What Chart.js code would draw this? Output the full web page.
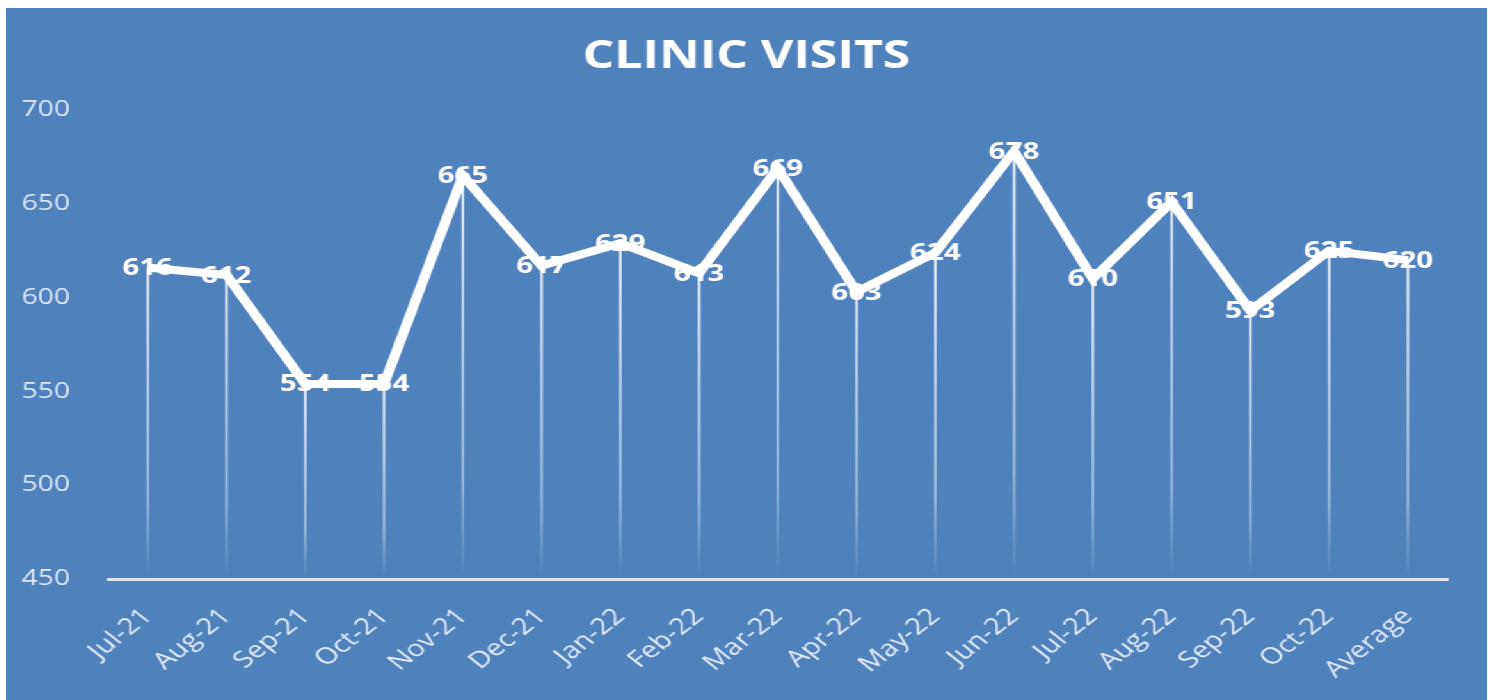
<!DOCTYPE html>
<html>
<head>
<meta charset="utf-8">
<script src="https://cdn.jsdelivr.net/npm/chart.js@4"></script>
<style>
  html, body { margin: 0; padding: 0; background: #ffffff; overflow: hidden; }
  /* the panel is drawn narrow, then widened so the lettering comes out broad */
  #wrap {
    position: absolute; left: 6px; top: 8px;
    width: 1157px; height: 692px;
    background: #4f81bd;
    transform: scaleX(1.28);
    transform-origin: 0 0;
  }
</style>
</head>
<body>
<div id="wrap"><canvas id="visits"></canvas></div>
<script>
const months = ['Jul-21','Aug-21','Sep-21','Oct-21','Nov-21','Dec-21','Jan-22','Feb-22',
                'Mar-22','Apr-22','May-22','Jun-22','Jul-22','Aug-22','Sep-22','Oct-22','Average'];
const visits = [616, 612, 554, 554, 665, 617, 629, 613, 669, 603, 624, 678, 610, 651, 593, 625, 620];
const yTicks = [450, 500, 550, 600, 650, 700];
const chartTitle = 'CLINIC VISITS';

// thin fading lines from each point down to the axis
const dropLines = {
  id: 'dropLines',
  beforeDatasetsDraw(chart) {
    const ctx = chart.ctx;
    const bottom = chart.scales.y.bottom;
    chart.getDatasetMeta(0).data.forEach(pt => {
      const g = ctx.createLinearGradient(0, pt.y, 0, bottom);
      g.addColorStop(0, 'rgba(255,255,255,0.9)');
      g.addColorStop(0.75, 'rgba(220,232,248,0.55)');
      g.addColorStop(1, 'rgba(220,232,248,0)');
      ctx.save();
      ctx.strokeStyle = g;
      ctx.lineWidth = 2;
      ctx.beginPath();
      ctx.moveTo(pt.x, pt.y);
      ctx.lineTo(pt.x, bottom);
      ctx.stroke();
      ctx.restore();
    });
  }
};

// value labels centred on each point
const valueLabels = {
  id: 'valueLabels',
  afterDatasetsDraw(chart) {
    const ctx = chart.ctx;
    ctx.save();
    ctx.font = 'bold 23px "Open Sans"';
    ctx.fillStyle = '#ffffff';
    ctx.textAlign = 'center';
    ctx.textBaseline = 'middle';
    chart.getDatasetMeta(0).data.forEach((pt, i) => {
      ctx.fillText(String(visits[i]), pt.x, pt.y + 1);
    });
    ctx.restore();
  }
};

// title centred on the whole panel, not just the plot
const panelTitle = {
  id: 'panelTitle',
  afterDraw(chart) {
    const ctx = chart.ctx;
    ctx.save();
    ctx.font = 'bold 39px "Open Sans"';
    ctx.fillStyle = '#ffffff';
    ctx.textAlign = 'center';
    ctx.textBaseline = 'middle';
    ctx.fillText(chartTitle, chart.width / 2, 49);
    ctx.restore();
  }
};

new Chart(document.getElementById('visits'), {
  type: 'line',
  data: {
    labels: months,
    datasets: [{
      data: visits,
      borderColor: '#ffffff',
      borderWidth: 8,
      pointRadius: 0,
      tension: 0,
      borderJoinStyle: 'miter'
    }]
  },
  options: {
    responsive: true,
    maintainAspectRatio: false,
    animation: false,
    layout: { padding: { left: 0, right: 31, top: 102, bottom: 0 } },
    plugins: {
      legend: { display: false },
      tooltip: { enabled: false },
      title: { display: false }
    },
    scales: {
      x: {
        offset: true,
        grid: { display: false },
        border: { display: true, color: '#dfe8f4', width: 3 },
        ticks: {
          color: '#e4ebf5',
          font: { family: '"Open Sans"', size: 23 },
          minRotation: 45,
          maxRotation: 45,
          padding: 16
        },
        afterFit(scale) { scale.height = 121; }
      },
      y: {
        min: 450,
        max: 700,
        grid: { display: false },
        border: { display: false },
        afterBuildTicks(scale) { scale.ticks = yTicks.map(v => ({ value: v })); },
        ticks: {
          color: '#e4ebf5',
          font: { family: '"Open Sans"', size: 22 },
          padding: 22
        },
        afterFit(scale) { scale.width = 80; }
      }
    }
  },
  plugins: [dropLines, valueLabels, panelTitle]
});
</script>
</body>
</html>
